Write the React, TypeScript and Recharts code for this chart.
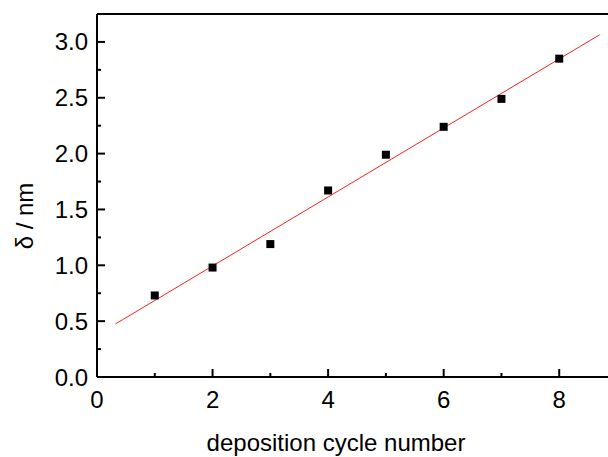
import { ScatterChart, Scatter, XAxis, YAxis } from 'recharts'

const cycles = [1, 2, 3, 4, 5, 6, 7, 8]
const thickness = [0.73, 0.98, 1.19, 1.67, 1.99, 2.24, 2.49, 2.85]

// linear fit, endpoints as drawn
const fitX = [0.32, 8.7]
const fitY = [0.475, 3.064]

const xTicks = [0, 1, 2, 3, 4, 5, 6, 7, 8]
const yTicks = [0, 0.25, 0.5, 0.75, 1.0, 1.25, 1.5, 1.75, 2.0, 2.25, 2.5, 2.75, 3.0]

const points = cycles.map((c, i) => ({ x: c, y: thickness[i] }))
const fit = fitX.map((x, i) => ({ x, y: fitY[i] }))

const FONT = '"Liberation Sans", Arial, sans-serif'
const FS = 24

const isMajorX = (v: number) => v % 2 === 0
const isMajorY = (v: number) => Math.abs(v * 2 - Math.round(v * 2)) < 1e-6

function BottomTick(props: any) {
  const { x, y, payload } = props
  const major = isMajorX(payload.value)
  return (
    <g>
      <line x1={x} x2={x} y1={y} y2={y - (major ? 8 : 4)} stroke="#000" strokeWidth={2} />
      {major && (
        <text x={x} y={y + 31} textAnchor="middle" fontSize={FS} fontFamily={FONT} fill="#000">
          {payload.value}
        </text>
      )}
    </g>
  )
}

function TopTick(props: any) {
  const { x, y, payload } = props
  const major = isMajorX(payload.value)
  return <line x1={x} x2={x} y1={y} y2={y + (major ? 8 : 4)} stroke="#000" strokeWidth={2} />
}

function LeftTick(props: any) {
  const { x, y, payload } = props
  const major = isMajorY(payload.value)
  return (
    <g>
      <line x1={x} x2={x + (major ? 8 : 4)} y1={y} y2={y} stroke="#000" strokeWidth={2} />
      {major && (
        <text x={x - 9} y={y + 8.5} textAnchor="end" fontSize={FS} fontFamily={FONT} fill="#000">
          {payload.value.toFixed(1)}
        </text>
      )}
    </g>
  )
}

function Square(props: any) {
  const { cx, cy } = props
  return <rect x={cx - 4} y={cy - 4} width={8} height={8} fill="#000" />
}

export default function App() {
  return (
    <div
      style={{
        position: 'absolute',
        left: 0,
        top: 0,
        width: 608,
        height: 457,
        overflow: 'hidden',
        background: '#fff',
      }}
    >
      <ScatterChart width={700} height={457} margin={{ top: 0, right: 83, bottom: 0, left: 0 }}>
        <XAxis
          xAxisId="bottom"
          dataKey="x"
          type="number"
          domain={[0, 9]}
          ticks={xTicks}
          interval={0}
          height={80}
          tickSize={0}
          tickMargin={0}
          tickLine={false}
          axisLine={{ stroke: '#000', strokeWidth: 2 }}
          tick={BottomTick}
          label={{
            value: 'deposition cycle number',
            position: 'insideBottom',
            offset: 6,
            dx: -21,
            fontSize: FS,
            fontFamily: FONT,
            fill: '#000',
          }}
        />
        <XAxis
          xAxisId="top"
          orientation="top"
          dataKey="x"
          type="number"
          domain={[0, 9]}
          ticks={xTicks}
          interval={0}
          height={14}
          tickSize={0}
          tickMargin={0}
          tickLine={false}
          axisLine={{ stroke: '#000', strokeWidth: 2 }}
          tick={TopTick}
        />
        <YAxis
          dataKey="y"
          type="number"
          domain={[0, 3.25]}
          ticks={yTicks}
          interval={0}
          width={97}
          tickSize={0}
          tickMargin={0}
          tickLine={false}
          axisLine={{ stroke: '#000', strokeWidth: 2 }}
          tick={LeftTick}
          label={{
            content: () => (
              <text
                transform="rotate(-90)"
                x={-216}
                y={33}
                textAnchor="middle"
                fontSize={FS}
                fontFamily={FONT}
                fill="#000"
              >
                δ / nm
              </text>
            ),
          }}
        />
        <Scatter
          xAxisId="bottom"
          data={fit}
          line={{ stroke: '#ff2020', strokeWidth: 1 }}
          shape={() => null}
          isAnimationActive={false}
        />
        <Scatter xAxisId="bottom" data={points} shape={Square} isAnimationActive={false} />
      </ScatterChart>
    </div>
  )
}
